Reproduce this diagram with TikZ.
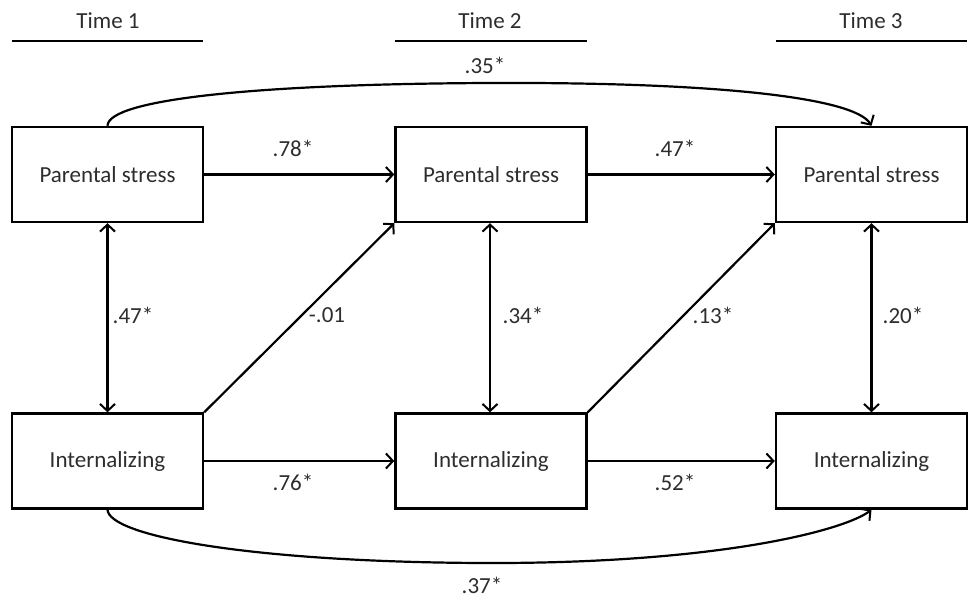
\documentclass[tikz,border=0pt]{standalone}
\usepackage{fontspec}
\setmainfont{Carlito}
\usetikzlibrary{arrows.meta}
\definecolor{txt}{RGB}{45,45,45}
\begin{document}
\begin{tikzpicture}[x=1pt,y=-1pt,
  tip/.tip={Straight Barb[length=7pt,width=15pt,line width=2pt]},
  box/.style={draw, line width=2.4pt, minimum width=191pt, minimum height=95pt, inner sep=0pt,
    font=\fontsize{23}{27}\selectfont, text=txt},
  conn/.style={line width=2.2pt, -tip},
  both/.style={line width=2.2pt, tip-tip},
  lbl/.style={font=\fontsize{23}{27}\selectfont, text=txt, inner sep=0pt},
  rule/.style={line width=2.6pt}]
\useasboundingbox (0,0) rectangle (968,601);

% time headers
\node[lbl] (t1) at (108,21) {Time 1};
\node[lbl] (t2) at (490,21) {Time 2};
\node[lbl] (t3) at (871,21) {Time 3};
\draw[rule] (12,41) -- (203,41);
\draw[rule] (395,41) -- (587,41);
\draw[rule] (776,41) -- (967,41);

% boxes
\node[box] (ps1) at (107.5,174.5) {Parental stress};
\node[box] (ps2) at (491,174.5) {Parental stress};
\node[box] (ps3) at (871.5,174.5) {Parental stress};
\node[box] (in1) at (107.5,461) {Internalizing};
\node[box] (in2) at (491,461) {Internalizing};
\node[box] (in3) at (871.5,461) {Internalizing};

% horizontal paths
\draw[conn] (ps1.east) -- (ps2.west);
\draw[conn] (ps2.east) -- (ps3.west);
\draw[conn] (in1.east) -- (in2.west);
\draw[conn] (in2.east) -- (in3.west);

% correlations
\draw[both] (ps1.south) -- (in1.north);
\draw[both] ([xshift=-1pt]ps2.south) -- ([xshift=-1pt]in2.north);
\draw[both] (ps3.south) -- (in3.north);

% cross-lagged
\draw[conn] (in1.north east) -- (ps2.south west);
\draw[conn] (in2.north east) -- (ps3.south west);

% long curves
\coordinate (topmid) at (490,83);
\coordinate (botmid) at (482,563);
\draw[conn] (ps1.north) .. controls (108,100) and (250,84) .. (topmid)
  .. controls (720,82) and (855,98) .. (ps3.north);
\draw[conn] (in1.south) .. controls (109,536) and (250,562) .. (botmid)
  .. controls (720,564) and (845,530) .. (in3.south);

% labels
\node[lbl] (l1) at (293,148) {.78*};
\node[lbl] (l2) at (675,148) {.47*};
\node[lbl] (l3) at (293,482) {.76*};
\node[lbl] (l4) at (675,482) {.52*};
\node[lbl] (l5) at (133,315) {.47*};
\node[lbl] (l6) at (523,315) {.34*};
\node[lbl] (l7) at (903,315) {.20*};
\node[lbl] (l8) at (327,315) {-.01};
\node[lbl] (l9) at (713,315) {.13*};
\node[lbl] (l10) at (485,65) {.35*};
\node[lbl] (l11) at (482,585) {.37*};
\end{tikzpicture}
\end{document}
